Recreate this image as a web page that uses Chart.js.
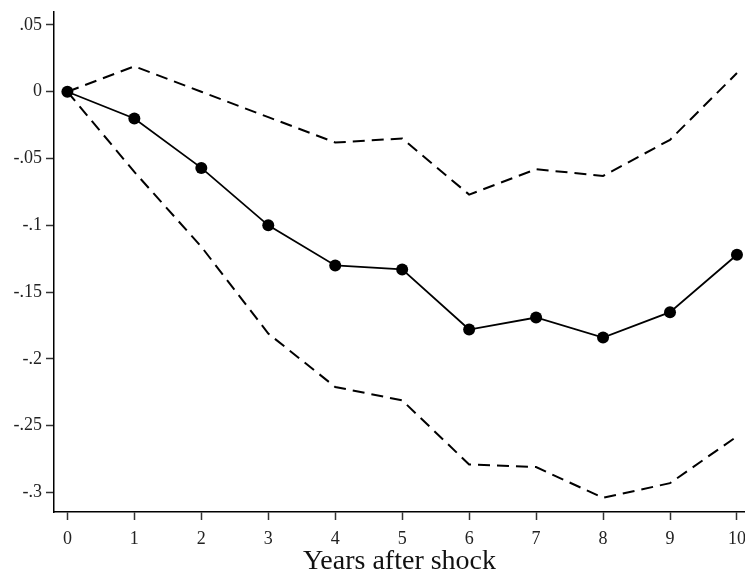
<!DOCTYPE html>
<html>
<head>
<meta charset="utf-8">
<script src="https://cdn.jsdelivr.net/npm/chart.js@4/dist/chart.umd.min.js"></script>
<style>
  html, body { margin: 0; padding: 0; background: #fff; overflow: hidden; }
  #chart { display: block; }
</style>
</head>
<body>
<canvas id="chart" width="745" height="574"></canvas>
<script>
// years after the shock (x axis)
const years = [0, 1, 2, 3, 4, 5, 6, 7, 8, 9, 10];

// point estimate and confidence band
const estimate   = [0, -0.020, -0.057, -0.100, -0.130, -0.133, -0.178, -0.169, -0.184, -0.165, -0.122];
const upperBound = [0,  0.019,  0.000, -0.019, -0.038, -0.035, -0.077, -0.058, -0.063, -0.036,  0.014];
const lowerBound = [0, -0.060, -0.116, -0.181, -0.221, -0.231, -0.279, -0.281, -0.304, -0.293, -0.258];

// axis ticks
const xTicks = [0, 1, 2, 3, 4, 5, 6, 7, 8, 9, 10];
const yTicks = [0.05, 0, -0.05, -0.1, -0.15, -0.2, -0.25, -0.3];
const yTickLabels = ['.05', '0', '-.05', '-.1', '-.15', '-.2', '-.25', '-.3'];

const toPoints = vals => years.map((x, i) => ({ x: x, y: vals[i] }));
const serif = '"Liberation Serif", "Times New Roman", serif';

const ctx = document.getElementById('chart').getContext('2d');
new Chart(ctx, {
    type: 'line',
    data: {
        datasets: [
            {
                label: 'Estimate',
                data: toPoints(estimate),
                borderColor: '#000',
                backgroundColor: '#000',
                borderWidth: 1.8,
                pointRadius: 6,
                pointBackgroundColor: '#000',
                pointBorderWidth: 0,
                tension: 0,
                clip: false
            },
            {
                label: 'Upper',
                data: toPoints(upperBound),
                borderColor: '#000',
                borderWidth: 2,
                borderDash: [12, 7],
                pointRadius: 0,
                tension: 0,
                clip: false
            },
            {
                label: 'Lower',
                data: toPoints(lowerBound),
                borderColor: '#000',
                borderWidth: 2,
                borderDash: [12, 7],
                pointRadius: 0,
                tension: 0,
                clip: false
            }
        ]
    },
    options: {
        responsive: false,
        animation: false,
        layout: { autoPadding: false, padding: { top: 12, right: 0, left: 0, bottom: 0 } },
        plugins: {
            legend: { display: false },
            tooltip: { enabled: false }
        },
        scales: {
            x: {
                type: 'linear',
                min: -0.2,
                max: 10.12,
                afterBuildTicks: scale => {
                    scale.ticks = xTicks.map(v => ({ value: v }));
                },
                afterFit: scale => {
                    scale.height = 62;
                    scale.paddingLeft = 0;
                    scale.paddingRight = 0;
                },
                ticks: {
                    autoSkip: false,
                    maxRotation: 0,
                    padding: 8,
                    color: '#222',
                    font: { family: serif, size: 18 },
                    callback: v => String(v)
                },
                grid: {
                    drawOnChartArea: false,
                    drawTicks: true,
                    tickLength: 8,
                    tickColor: '#333',
                    tickWidth: 1.5
                },
                border: { display: true, color: '#000', width: 1.5 },
                title: {
                    display: true,
                    text: 'Years after shock',
                    color: '#111',
                    font: { family: serif, size: 28, lineHeight: 0.85 },
                    padding: { top: 0, bottom: 0 }
                }
            },
            y: {
                type: 'linear',
                min: -0.3146,
                max: 0.0597,
                afterBuildTicks: scale => {
                    scale.ticks = yTicks.map(v => ({ value: v }));
                },
                afterFit: scale => {
                    scale.width = 54;
                    scale.paddingTop = 0;
                    scale.paddingBottom = 0;
                },
                ticks: {
                    autoSkip: false,
                    padding: 4,
                    color: '#222',
                    font: { family: serif, size: 18 },
                    callback: function (v) {
                        const i = yTicks.findIndex(t => Math.abs(t - v) < 1e-9);
                        return i >= 0 ? yTickLabels[i] : '';
                    }
                },
                grid: {
                    drawOnChartArea: false,
                    drawTicks: true,
                    tickLength: 8,
                    tickColor: '#333',
                    tickWidth: 1.5
                },
                border: { display: true, color: '#000', width: 1.5 }
            }
        }
    }
});
</script>
</body>
</html>
